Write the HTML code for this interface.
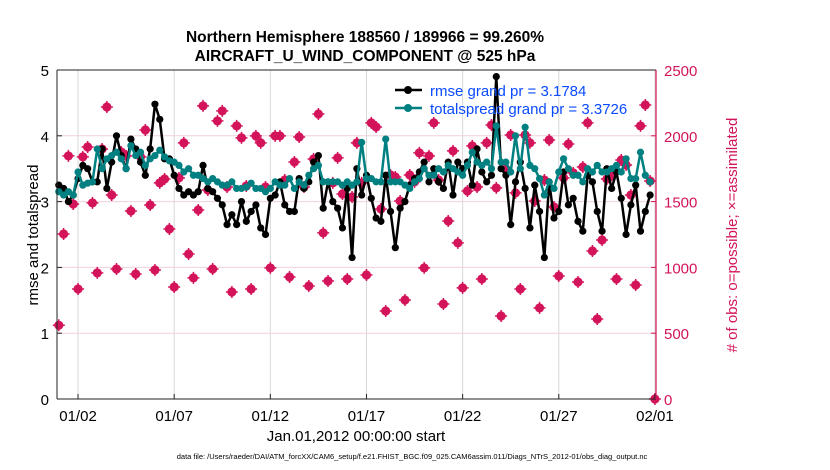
<!DOCTYPE html>
<html><head><meta charset="utf-8"><style>
body{margin:0;background:#fff;}
svg{display:block;font-family:"Liberation Sans",sans-serif;}
</style></head><body>
<svg id="chart" width="830" height="470">
<text x="365" y="42" text-anchor="middle" font-size="15.5" font-weight="bold">Northern Hemisphere 188560 / 189966 = 99.260%</text>
<text x="365" y="61" text-anchor="middle" font-size="15.5" font-weight="bold">AIRCRAFT_U_WIND_COMPONENT @ 525 hPa</text>
<g id="grid"></g>
<g id="obs"></g>
<g id="lines"></g>
<g id="axes"></g>
<text transform="translate(38,235) rotate(-90)" text-anchor="middle" font-size="15">rmse and totalspread</text>
<text transform="translate(737,235) rotate(-90)" text-anchor="middle" font-size="15" fill="#d4145a"># of obs: o=possible; ×=assimilated</text>
<text x="356" y="441" text-anchor="middle" font-size="15">Jan.01,2012 00:00:00 start</text>
<text x="412" y="459" text-anchor="middle" font-size="7.5">data file: /Users/raeder/DAI/ATM_forcXX/CAM6_setup/f.e21.FHIST_BGC.f09_025.CAM6assim.011/Diags_NTrS_2012-01/obs_diag_output.nc</text>
<g>
<line x1="395" y1="90" x2="422" y2="90" stroke="#000" stroke-width="2.5"/>
<circle cx="408" cy="90" r="4" fill="#000"/>
<text x="430" y="96" font-size="15" fill="#0a4bff">rmse grand pr = 3.1784</text>
<line x1="395" y1="108" x2="422" y2="108" stroke="#008080" stroke-width="2.5"/>
<circle cx="408" cy="108" r="4" fill="#008080"/>
<text x="430" y="114" font-size="15" fill="#0a4bff">totalspread grand pr = 3.3726</text>
</g>
</svg>
<script>
const rmse=[3.25,3.2,3.0,3.1, 3.35,3.55,3.5,3.3, 3.3,3.8,3.2,3.6, 4.0,3.7,3.5,3.95, 3.8,3.6,3.4,3.8, 4.48,4.25,3.65,3.65, 3.4,3.2,3.1,3.15, 3.1,3.15,3.55,3.2, 3.15,3.05,2.95,2.65, 2.8,2.65,3.0,2.7, 2.85,2.95,2.6,2.5, 3.05,3.1,3.3,2.95, 2.85,2.85,3.35,3.2, 3.3,3.6,3.7,2.9, 3.3,3.0,2.9,2.6, 3.2,2.15,3.5,3.1, 3.4,3.05,2.75,2.7, 3.4,2.85,2.3,2.9, 3.0,3.25,3.35,3.45, 3.6,3.3,3.5,3.3, 3.2,3.6,3.1,3.6, 3.5,3.6,3.25,3.8, 3.45,3.3,3.4,4.9, 3.5,3.4,2.65,3.3, 3.6,3.2,2.6,3.25, 2.85,2.15,3.3,2.75, 2.85,3.45,2.95,3.05, 2.7,2.55,3.4,3.3, 2.85,2.55,3.5,3.2, 3.45,3.05,2.5,2.95, 3.25,2.55,2.85,3.1];
const spread=[3.15,3.1,3.15,3.1, 3.45,3.25,3.28,3.3, 3.8,3.5,3.65,3.7, 3.75,3.65,3.5,3.85, 3.7,3.75,3.55,3.65, 3.7,3.78,3.68,3.62, 3.6,3.55,3.45,3.5, 3.4,3.4,3.35,3.3, 3.35,3.3,3.25,3.25, 3.3,3.2,3.2,3.22, 3.28,3.2,3.2,3.15, 3.2,3.3,3.25,3.25, 3.35,3.2,3.3,3.25, 3.4,3.5,3.55,3.3, 3.3,3.3,3.3,3.25, 3.3,3.25,3.3,3.9, 3.35,3.35,3.3,3.3, 3.95,3.3,3.3,3.3, 3.25,3.2,3.3,3.35, 3.5,3.4,3.4,3.5, 3.45,3.55,3.5,3.45, 3.4,3.55,3.75,3.6, 3.55,3.6,3.5,4.15, 3.6,3.6,3.45,4.0, 3.5,4.13,3.55,3.5, 3.35,3.1,3.3,3.2, 3.45,3.65,3.5,3.4, 3.4,3.3,3.5,3.45, 3.55,3.45,3.45,3.5, 3.55,3.45,3.65,3.35, 3.35,3.75,3.4,3.3];
const obsCount=[560,1254,1847,1482,836,1840,1915,1490,958,1900,2219,1550,988,1877,1847,1429,950,1840,2044,1474,980,1642,1672,1292,851,1680,1946,1102,920,1436,2227,1588,988,2113,2189,1611,813,2075,1984,1619,836,1999,1946,1611,996,1999,1999,1664,927,1801,1991,1611,859,1824,2166,1262,897,1642,1832,1558,912,1535,1946,1642,942,2098,2067,1444,669,1702,1687,1505,752,1702,1650,1870,996,1847,2098,1664,722,1353,1885,1186,844,1581,1923,1611,912,1946,2082,1604,631,1748,2006,1566,836,2006,1946,1505,692,1664,1968,1459,935,1680,1938,1718,889,1763,2098,1125,608,1208,1672,1700,912,1816,1778,1550,866,2075,2234,1657,0];
const leftTicks=[0,1,2,3,4,5];
const rightTicks=[0,500,1000,1500,2000,2500];
const dateTickDays=[1,6,11,16,21,26,31];
const dateTickLabels=["01/02","01/07","01/12","01/17","01/22","01/27","02/01"];

const NS="http://www.w3.org/2000/svg";
const L=57,R=656,T=70,B=399;
const xDay=d=>58.8+19.23*d;
const yL=v=>B-(v/5)*(B-T);
const yR=v=>B-(v/2500)*(B-T);
function mk(tag,attrs,parent){const e=document.createElementNS(NS,tag);for(const k in attrs)e.setAttribute(k,attrs[k]);parent.appendChild(e);return e;}
const grid=document.getElementById('grid'),axes=document.getElementById('axes'),obsG=document.getElementById('obs'),linesG=document.getElementById('lines');

dateTickDays.forEach((d,i)=>{
  const g=mk('line',{x1:xDay(d),x2:xDay(d),y1:T,y2:B,stroke:'#d8d8d8','stroke-width':1},grid);
  
  
  const t=mk('text',{x:xDay(d),y:B+22,'text-anchor':'middle','font-size':15},axes);
  t.textContent=dateTickLabels[i];
  
  
  mk('line',{x1:xDay(d),x2:xDay(d),y1:B,y2:B-5,stroke:'#222'},axes);
});
rightTicks.forEach(v=>{
  if(v>0&&v<2500){const g=mk('line',{x1:L,x2:R,y1:yR(v),y2:yR(v),stroke:'#f0d0dc','stroke-width':1},grid);
  
  }
  const t=mk('text',{x:R+8,y:yR(v)+6,'font-size':15,fill:'#d4145a'},axes);
  t.textContent=v;
  
  
  mk('line',{x1:R,x2:R-5,y1:yR(v),y2:yR(v),stroke:'#d4145a'},axes);
});
leftTicks.forEach(v=>{
  const t=mk('text',{x:L-8,y:yL(v)+6,'font-size':15,'text-anchor':'end'},axes);
  t.textContent=v;
  
  
  mk('line',{x1:L,x2:L+5,y1:yL(v),y2:yL(v),stroke:'#222'},axes);
});
mk('line',{x1:L,x2:R,y1:T,y2:T,stroke:'#222'},axes);
mk('line',{x1:L,x2:R,y1:B,y2:B,stroke:'#222'},axes);
mk('line',{x1:L,x2:L,y1:T,y2:B,stroke:'#222'},axes);
mk('line',{x1:R,x2:R,y1:T,y2:B,stroke:'#d4145a','stroke-width':1.2},axes);

const step=31/(obsCount.length-1);
obsCount.forEach((v,i)=>{
  const x=xDay(i*step),y=yR(v);
  const p=mk('circle',{cx:x,cy:y,r:4.6,fill:'#d4145a'},obsG);
  
  
  mk('path',{d:`M${x-6},${y}H${x+6}M${x},${y-6}V${y+6}`,stroke:'#d4145a','stroke-width':1.5},obsG);
});

function drawSeries(arr,color,name){
  const pts=arr.map((v,i)=>[xDay(i*0.25),yL(v)]);
  const pl=mk('polyline',{points:pts.map(p=>p.join(',')).join(' '),fill:'none',stroke:color,'stroke-width':2.5,'stroke-linejoin':'round'},linesG);
  
  
  pts.forEach(p=>{
    const c=mk('circle',{cx:p[0],cy:p[1],r:3.6,fill:color},linesG);
    
    
  });
}
drawSeries(rmse,'#000','rmse');
drawSeries(spread,'#008080','totalspread');
</script>
</body></html>
